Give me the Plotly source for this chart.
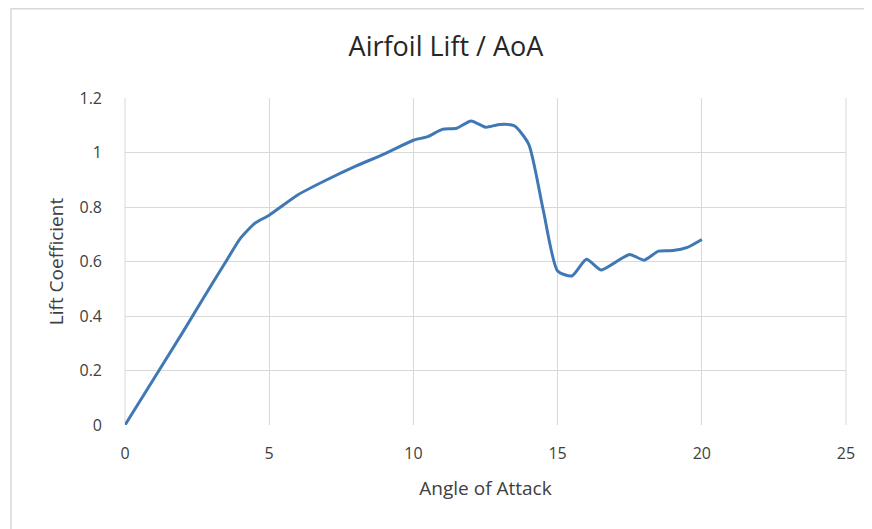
import plotly.graph_objects as go

aoa = [0, 1, 2, 3, 3.5, 4, 4.5, 5, 6, 7, 8, 9, 10, 10.5, 11, 11.5, 12, 12.5, 13, 13.5,
       14, 14.5, 15, 15.5, 16, 16.5, 17, 17.5, 18, 18.5, 19, 19.5, 20]
cl = [0, 0.17, 0.34, 0.515, 0.60, 0.685, 0.74, 0.77, 0.845, 0.90, 0.95, 0.995, 1.045, 1.058,
      1.085, 1.089, 1.116, 1.093, 1.103, 1.098, 1.03, 0.79, 0.565, 0.547, 0.608, 0.569,
      0.597, 0.626, 0.605, 0.638, 0.640, 0.652, 0.681]

OFF = 8  # page body margin
W, H = 872 - OFF, 529 - OFF
L, T = 125 - OFF, 98 - OFF
R = W - (846 - OFF)
B = H - (425 - OFF)
pw, ph = W - L - R, H - T - B


def px(x):
    return (x - OFF - L) / pw


def py(y):
    return (H - B - (y - OFF)) / ph


fig = go.Figure()
fig.add_trace(go.Scatter(x=aoa, y=cl, mode="lines",
                         line=dict(color="#3f78b5", width=3, shape="spline", smoothing=0.6),
                         showlegend=False, hoverinfo="x+y"))

font_fam = "Open Sans, Liberation Sans, sans-serif"
grid = "#d9d9d9"
fig.update_layout(
    width=W, height=H,
    margin=dict(l=L, r=R, t=T, b=B, autoexpand=False),
    paper_bgcolor="white", plot_bgcolor="white",
    title=dict(text="Airfoil Lift / AoA", xref="container", x=(446 - OFF) / W, xanchor="center",
               yref="container", y=1 - (47 - OFF) / H, yanchor="middle",
               font=dict(family=font_fam, size=27, color="#262626")),
    xaxis=dict(range=[0, 25], dtick=5, tick0=0, showgrid=True, gridcolor=grid, gridwidth=1,
               zeroline=False, showline=False, ticks="", ticklabelstandoff=17,
               tickfont=dict(family=font_fam, size=16, color="#404040"),
               title=dict(text="Angle of Attack", standoff=18,
                          font=dict(family=font_fam, size=19, color="#404040"))),
    yaxis=dict(range=[0, 1.2], dtick=0.2, tick0=0, showgrid=True, gridcolor=grid, gridwidth=1,
               zeroline=False, showline=False, ticks="", ticklabelstandoff=22,
               tickfont=dict(family=font_fam, size=16, color="#404040"),
               title=dict(text="Lift Coefficient", standoff=10,
                          font=dict(family=font_fam, size=19, color="#404040"))),
    shapes=[
        dict(type="rect", xref="paper", yref="paper", x0=px(11), x1=px(890), y0=py(560), y1=py(8.8),
             line=dict(color=grid, width=1.5), layer="below"),
        dict(type="line", xref="paper", yref="paper", x0=0, x1=0, y0=0, y1=1,
             line=dict(color=grid, width=1), layer="below"),
        dict(type="line", xref="paper", yref="paper", x0=1, x1=1, y0=0, y1=1,
             line=dict(color=grid, width=1), layer="below"),
    ],
)

fig.write_html("out.html")
